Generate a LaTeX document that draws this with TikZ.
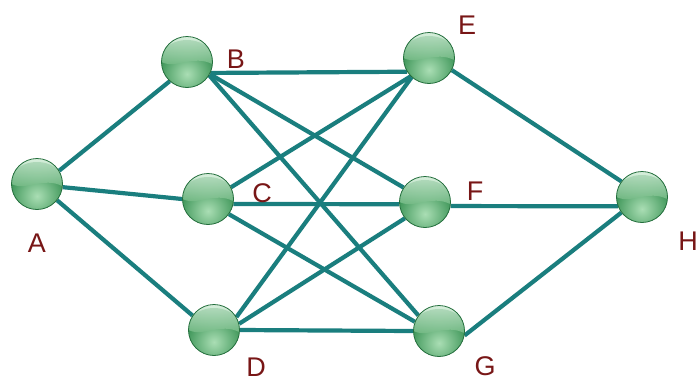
\documentclass[tikz,border=0pt]{standalone}
\usepackage{fontspec}
\setmainfont{Liberation Sans}
\usetikzlibrary{backgrounds}
\definecolor{edgeteal}{RGB}{26,126,126}
\definecolor{lblred}{RGB}{120,22,22}
\definecolor{ballDark}{RGB}{40,135,70}
\definecolor{ballLight}{RGB}{170,222,180}
\definecolor{ballTop}{RGB}{215,240,220}
\definecolor{ballMid}{RGB}{95,175,115}
\definecolor{ballEdge}{RGB}{35,110,60}
\tikzset{
  ball/.style={circle, minimum size=51pt, inner sep=0pt, draw=ballEdge, line width=0.8pt,
    path picture={
      \begin{scope}[shift={(path picture bounding box.center)}]
        \shade[inner color=ballLight, outer color=ballDark] (0pt,-12pt) circle (34pt);
        \shade[top color=ballTop, bottom color=ballMid, opacity=0.85]
          (-27pt,1pt) .. controls (-12pt,-9pt) and (6pt,9pt) .. (27pt,-3pt)
          -- (27pt,27pt) -- (-27pt,27pt) -- cycle;
      \end{scope}
    }},
  lbl/.style={text=lblred, font=\fontsize{27}{27}\selectfont, inner sep=0pt},
  link/.style={draw=edgeteal, line width=4.2pt}
}
\begin{document}
\begin{tikzpicture}[x=1pt,y=-1pt]
\useasboundingbox (0,0) rectangle (700,381);
% nodes
\node[ball] (A) at (37,184) {};
\node[ball] (B) at (187,62) {};
\node[ball] (C) at (208,199) {};
\node[ball] (D) at (214,330) {};
\node[ball] (E) at (429,58) {};
\node[ball] (F) at (425,202) {};
\node[ball] (G) at (439,331) {};
\node[ball] (H) at (642,197) {};
% labels
\node[lbl] (lA) at (37,243) {A};
\node[lbl] (lB) at (236,59) {B};
\node[lbl] (lC) at (262,193) {C};
\node[lbl] (lD) at (256,367) {D};
\node[lbl] (lE) at (467,25) {E};
\node[lbl] (lF) at (475,191) {F};
\node[lbl] (lG) at (485,366) {G};
\node[lbl] (lH) at (688,241) {H};
% edges
\begin{scope}[on background layer]
\fill[white] (0,0) rectangle (700,381);
\draw[link] (A.31) -- (B.228);
\draw[link] (A.-7) -- (C.180);
\draw[link] (A.-39) -- (D.146);
\draw[link] (B.-25) -- (E.212);
\draw[link] (B.-28) -- (F.146);
\draw[link] (B.-31) -- (G.143);
\draw[link] (C.27) -- (E.225);
\draw[link] (C.-11) -- (F.185);
\draw[link] (C.-36) -- (G.159);
\draw[link] (D.30) -- (E.228);
\draw[link] (D.14) -- (F.219);
\draw[link] (D.0) -- (G.180);
\draw[link] (E.-28) -- (H.143);
\draw[link] (F.-9) -- (H.201);
\draw[link] (G.-10) -- (H.217);
\end{scope}
\end{tikzpicture}
\end{document}
